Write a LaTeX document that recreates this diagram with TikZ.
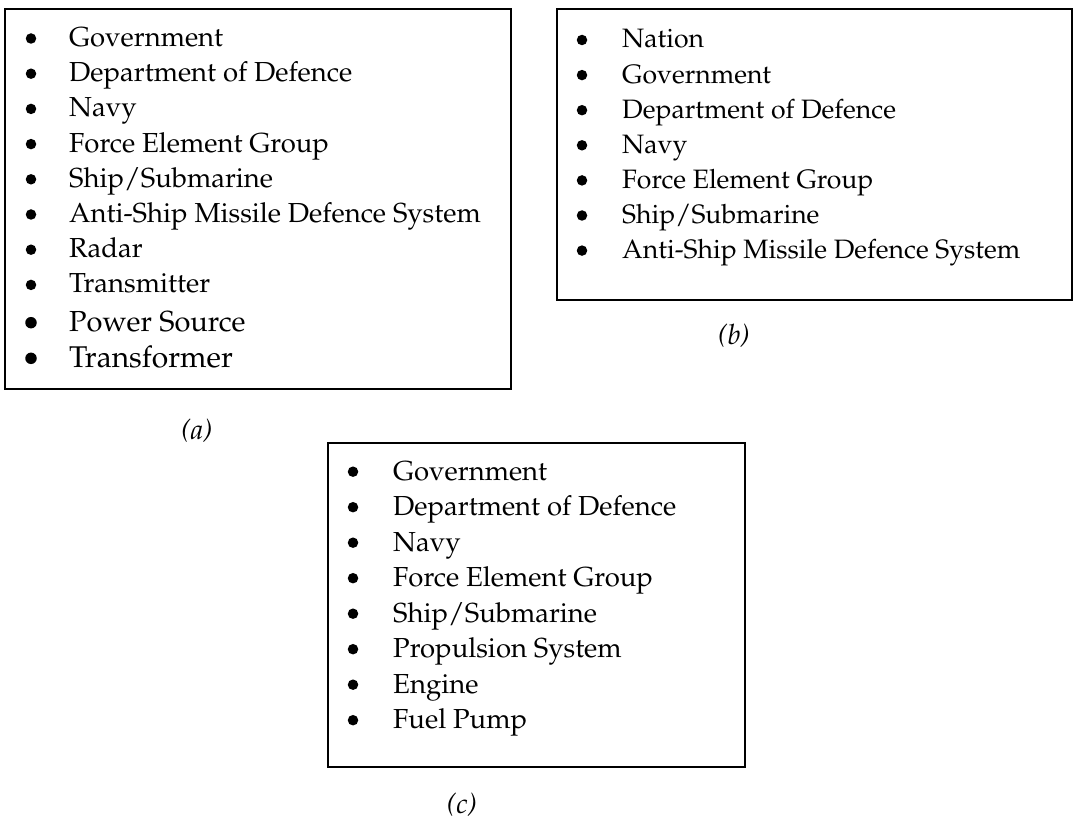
\documentclass[tikz,border=0pt]{standalone}
\usepackage[T1]{fontenc}
\usepackage{mathpazo}
\begin{document}
\begin{tikzpicture}[x=1pt,y=-1pt,
  frame/.style={draw=black,line width=1.6pt},
  dot/.style={circle,fill=black,inner sep=0pt,minimum size=10.5pt},
  item/.style={anchor=base west,inner sep=0pt,font=\fontsize{27.5}{33}\selectfont},
  itemb/.style={anchor=base west,inner sep=0pt,font=\fontsize{26.6}{32}\selectfont},
  caption/.style={inner sep=0pt,font=\fontsize{28}{33}\selectfont\itshape}]
\useasboundingbox (0,0) rectangle (1076,821);

% panel (a)
\draw[frame] (5,9) rectangle (511,389);
\foreach \t [count=\i] in {Government,Department of Defence,Navy,Force Element Group,Ship/Submarine,Anti-Ship Missile Defence System,Radar,Transmitter}{
  \node[dot] (a\i dot) at (31,{38.5+35.2*(\i-1)}) {};
  \node[item] (a\i) at (69,{46.5+35.2*(\i-1)}) {\t};
}
\node[dot,minimum size=11.5pt] (a9dot) at (31,322.7) {};
\node[item,font=\fontsize{29}{34}\selectfont] (a9) at (69,331) {Power Source};
\node[dot,minimum size=11.5pt] (a10dot) at (31,358.3) {};
\node[item,font=\fontsize{30}{35}\selectfont] (a10) at (69,367) {Transformer};
\node[caption] (capa) at (197,431) {(a)};

% panel (b)
\draw[frame] (557,9) rectangle (1072,300);
\foreach \t [count=\i] in {Nation,Government,Department of Defence,Navy,Force Element Group,Ship/Submarine,Anti-Ship Missile Defence System}{
  \node[dot] (b\i dot) at (582,{40+35.1*(\i-1)}) {};
  \node[itemb] (b\i) at (622,{48+35.1*(\i-1)}) {\t};
}
\node[caption] (capb) at (734,336) {(b)};

% panel (c)
\draw[frame] (328,443) rectangle (745,767);
\foreach \t [count=\i] in {Government,Department of Defence,Navy,Force Element Group,Ship/Submarine,Propulsion System,Engine,Fuel Pump}{
  \node[dot] (c\i dot) at (353,{471.7+35.5*(\i-1)}) {};
  \node[item] (c\i) at (393,{480+35.5*(\i-1)}) {\t};
}
\node[caption] (capc) at (462,805) {(c)};
\end{tikzpicture}
\end{document}
